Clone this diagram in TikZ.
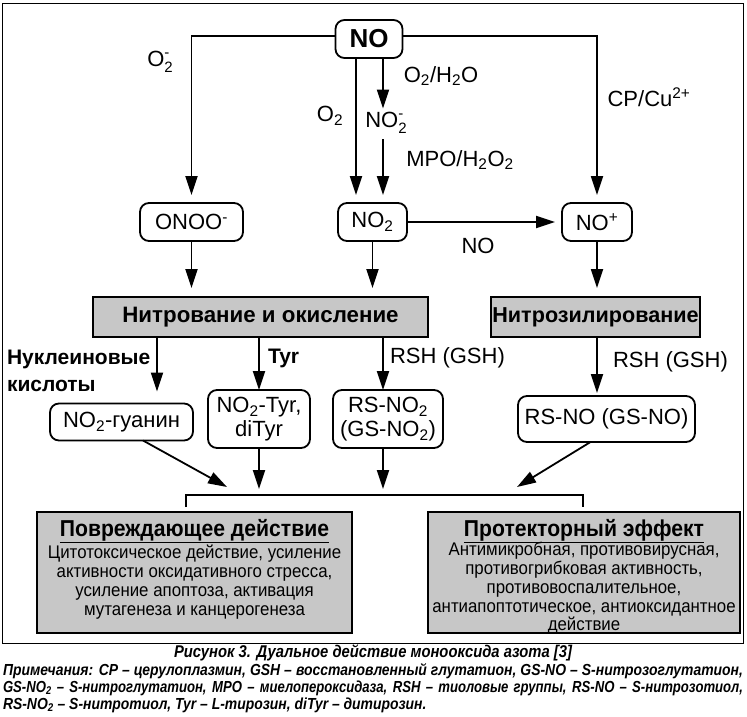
\documentclass[tikz,border=0pt]{standalone}
\usepackage{fontspec}
\setmainfont{Liberation Sans}
\newfontfamily\narrowfont[FakeStretch=0.92]{Liberation Sans}
\newfontfamily\capfont[FakeStretch=0.87]{Liberation Sans}
\newfontfamily\capfontb[FakeStretch=0.82]{Liberation Sans}
\usetikzlibrary{arrows.meta}
\newcommand{\sbsp}[2]{\rlap{\raisebox{0.42em}{\fontsize{15}{15}\selectfont #2}}\raisebox{-0.25em}{\fontsize{15}{15}\selectfont #1}}
\begin{document}
\begin{tikzpicture}[x=1pt,y=-1pt,
  every node/.style={inner sep=0pt,outer sep=0pt},
  rbox/.style={draw,line width=1.8pt,rounded corners=9pt,align=center,font=\fontsize{22}{24}\selectfont},
  gbox/.style={draw,line width=1.8pt,fill=black!22},
  arr/.style={line width=1.8pt,-{Triangle[length=19pt,width=12pt]}},
  lbl/.style={font=\fontsize{22}{24}\selectfont},
  blbl/.style={font=\bfseries\fontsize{21}{27}\selectfont,align=left},
  headtxt/.style={font=\narrowfont\bfseries\fontsize{23}{26}\selectfont},
  bodytxt/.style={font=\narrowfont\fontsize{18.3}{18.8}\selectfont,align=center},
  captxt/.style={font=\capfont\bfseries\itshape\fontsize{16}{18}\selectfont},
]
\useasboundingbox (0,0) rectangle (747,717);
\draw[line width=1.3pt] (2.5,3.5) rectangle (743.5,643.5);

% nodes
\node[rbox,minimum width=67pt,minimum height=38pt,font=\bfseries\fontsize{26}{28}\selectfont] (NO) at (369,39) {NO};
\node[rbox,minimum width=103pt,minimum height=38pt] (ONOO) at (191.5,222) {ONOO\textsuperscript{-}};
\node[rbox,minimum width=69pt,minimum height=38pt] (NOtwo) at (372.5,222) {NO\textsubscript{2}};
\node[rbox,minimum width=70pt,minimum height=38pt] (NOp) at (597,222) {NO\textsuperscript{+}};
\node[gbox,minimum width=335pt,minimum height=40pt,font=\bfseries\fontsize{22.3}{24}\selectfont] (nitr) at (260.5,317) {Нитрование и окисление};
\node[gbox,minimum width=209pt,minimum height=40pt,font=\bfseries\fontsize{21.6}{24}\selectfont] (nitroz) at (595.5,317) {Нитрозилирование};
\node[rbox,minimum width=143pt,minimum height=37pt] (gua) at (121.5,422) {NO\textsubscript{2}-гуанин};
\node[rbox,minimum width=102pt,minimum height=58pt] (tyr) at (259,419) {NO\textsubscript{2}-Tyr,\\diTyr};
\node[rbox,minimum width=110pt,minimum height=58pt] (rsno2) at (388,419) {RS-NO\textsubscript{2}\\(GS-NO\textsubscript{2})};
\node[rbox,minimum width=177pt,minimum height=46pt] (rsno) at (606.5,419) {RS-NO (GS-NO)};

\node[gbox,line width=2.5pt,minimum width=315pt,minimum height=121pt] (dmg) at (194.5,572.5) {};
\node[gbox,line width=2.5pt,minimum width=312pt,minimum height=121pt] (prot) at (584,572.5) {};
\node[headtxt] (dmgh) at (194.5,531) {\underline{Повреждающее действие}};
\node[bodytxt] (dmgb) at (194.5,582) {Цитотоксическое действие, усиление\\активности оксидативного стресса,\\усиление апоптоза, активация\\мутагенеза и канцерогенеза};
\node[headtxt] (proth) at (584,531) {\underline{Протекторный эффект}};
\node[bodytxt] (protb) at (584,588.5) {Антимикробная, противовирусная,\\противогрибковая активность,\\противовоспалительное,\\антиапоптотическое, антиоксидантное\\действие};

% labels
\node[lbl] (lO2m) at (160,62) {O\sbsp{2}{-}};
\node[lbl] (lO2) at (330,116) {O\textsubscript{2}};
\node[lbl] (lO2H2O) at (441,76) {O\textsubscript{2}/H\textsubscript{2}O};
\node[lbl] (nitrite) at (386,123) {NO\sbsp{2}{-}};
\node[lbl] (lMPO) at (460,160) {MPO/H\textsubscript{2}O\textsubscript{2}};
\node[lbl] (lCP) at (649,97) {CP/Cu\textsuperscript{2+}};
\node[lbl] (lNO) at (478,246) {NO};
\node[blbl,anchor=west] (lNuk) at (7,371) {Нуклеиновые\\кислоты};
\node[lbl,font=\bfseries\fontsize{21}{24}\selectfont,anchor=west] (lTyr) at (268,358) {Tyr};
\node[lbl,anchor=west] (lRSH1) at (390,358) {RSH (GSH)};
\node[lbl,anchor=west] (lRSH2) at (613,362) {RSH (GSH)};

% coordinates
\coordinate (m1) at (383,0);
\coordinate (a1) at (157,0);
\coordinate (brL) at (186,507);
\coordinate (brR) at (583,507);
\coordinate (brT) at (0,495);
\coordinate (dg) at (227,487);
\coordinate (dr) at (517,487);

% connectors
\draw[arr,shorten >=8pt] ([yshift=3pt]NO.west) -| (ONOO.north);
\draw[arr,shorten >=8pt] ([yshift=3pt]NO.east) -| (NOp.north);
\draw[arr,shorten >=8pt] ([xshift=-13pt]NO.south) -- ([xshift=-16.5pt]NOtwo.north);
\draw[arr,shorten >=4pt] (NO.south -| m1) -- (nitrite.north -| m1);
\draw[arr,shorten <=6pt,shorten >=8pt] (nitrite.south -| m1) -- (NOtwo.north -| m1);
\draw[arr,shorten >=7pt] (NOtwo.east) -- (NOp.west);
\draw[arr,shorten >=9pt] (ONOO.south) -- (ONOO.south |- nitr.north);
\draw[arr,shorten >=9pt] (NOtwo.south) -- (NOtwo.south |- nitr.north);
\draw[arr,shorten >=9pt] (NOp.south) -- (NOp.south |- nitroz.north);
\draw[arr,shorten >=12pt] (nitr.south -| a1) -- (gua.north -| a1);
\draw[arr] (nitr.south -| tyr) -- (tyr.north);
\draw[arr] (nitr.south -| m1) -- (rsno2.north -| m1);
\draw[arr,shorten >=3pt] (nitroz.south -| NOp) -- (rsno.north -| NOp);
\draw[arr] ([xshift=21.5pt]gua.south) -- (dg);
\draw[arr,shorten >=6pt] (tyr.south) -- (tyr.south |- brT);
\draw[arr,shorten >=6pt] (rsno2.south -| m1) -- (m1 |- brT);
\draw[arr] ([xshift=-16pt]rsno.south) -- (dr);
\draw[line width=2.2pt] (brL) -- (brL |- brT) -- (brR |- brT) -- (brR);

% caption
\node[captxt,font=\capfont\bfseries\itshape\fontsize{17}{18}\selectfont] (cap) at (373,653) {Рисунок 3. Дуальное действие монооксида азота [3]};
\node[captxt,anchor=west] (n1) at (3,671) {\makebox[740pt][s]{Примечания: CP – церулоплазмин, GSH – восстановленный глутатион, GS-NO – S-нитрозоглутатион,}};
\node[captxt,font=\capfontb\bfseries\itshape\fontsize{16}{18}\selectfont,anchor=west] (n2) at (3,688) {\makebox[740pt][s]{GS-NO\textsubscript{2} – S-нитроглутатион, MPO – миелопероксидаза, RSH – тиоловые группы, RS-NO – S-нитрозотиол,}};
\node[captxt,anchor=west] (n3) at (3,705) {RS-NO\textsubscript{2} – S-нитротиол, Tyr – L-тирозин, diTyr – дитирозин.};
\end{tikzpicture}
\end{document}
